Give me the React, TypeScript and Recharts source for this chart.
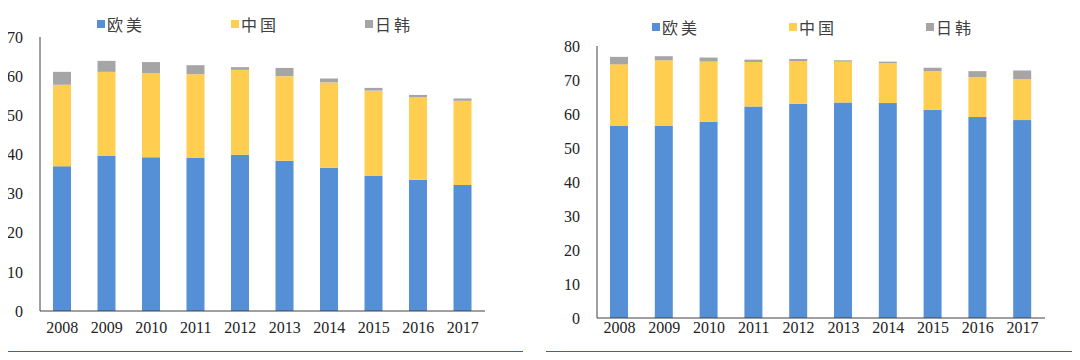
import React from 'react';
import { BarChart, Bar, XAxis, YAxis, Legend } from 'recharts';

const years = ['2008', '2009', '2010', '2011', '2012', '2013', '2014', '2015', '2016', '2017'];

// left chart
const leftWest = [37.0, 39.6, 39.3, 39.1, 39.9, 38.4, 36.6, 34.5, 33.5, 32.2];
const leftChina = [20.8, 21.5, 21.5, 21.4, 21.7, 21.6, 21.8, 21.8, 21.1, 21.5];
const leftJK = [3.3, 2.8, 2.8, 2.3, 0.7, 2.1, 1.0, 0.7, 0.6, 0.6];
const leftTicks = [0, 10, 20, 30, 40, 50, 60, 70];

// right chart
const rightWest = [56.5, 56.5, 57.7, 62.2, 63.0, 63.4, 63.2, 61.2, 59.1, 58.2];
const rightChina = [18.1, 19.3, 17.7, 13.1, 12.6, 12.0, 11.8, 11.4, 11.7, 12.1];
const rightJK = [2.2, 1.2, 1.2, 0.7, 0.6, 0.4, 0.4, 1.0, 1.8, 2.5];
const rightTicks = [0, 10, 20, 30, 40, 50, 60, 70, 80];

const seriesNames = ['欧美', '中国', '日韩'];
const colors = ['#5590d6', '#ffcd4f', '#a5a5a5'];

const serif = '"Liberation Serif", "Times New Roman", serif';
const cjk = '"Noto Sans CJK SC", sans-serif';

function rows(w: number[], c: number[], j: number[]) {
  return years.map((y, i) => ({ year: y, west: w[i], china: c[i], jk: j[i] }));
}

function LegendRow({ gap, left }: { gap: number; left: number }) {
  return (
    <div style={{ position: 'relative', height: 20, marginLeft: left }}>
      {seriesNames.map((n, i) => (
        <div
          key={n}
          style={{
            position: 'absolute',
            left: i * gap,
            top: 0,
            display: 'flex',
            alignItems: 'center',
            fontFamily: cjk,
            fontSize: 16,
            letterSpacing: 3,
            color: '#404040',
            whiteSpace: 'nowrap',
          }}
        >
          <span style={{ width: 8, height: 8, background: colors[i], marginRight: 2, display: 'inline-block' }} />
          {n}
        </div>
      ))}
    </div>
  );
}

function StackChart(props: {
  data: any[];
  ticks: number[];
  max: number;
  height: number;
  yWidth: number;
  top: number;
  right: number;
  xHeight: number;
  xMargin: number;
  legendTop: number;
  legendLeft: number;
  legendGap: number;
}) {
  const p = props;
  return (
    <BarChart
      width={540}
      height={p.height}
      data={p.data}
      margin={{ top: p.top, right: p.right, bottom: 0, left: 0 }}
      barSize={18}
    >
      <XAxis
        dataKey="year"
        tickLine={false}
        axisLine={{ stroke: '#404040' }}
        height={p.xHeight}
        tickMargin={p.xMargin}
        tick={{ fill: '#222', fontSize: 16, fontFamily: serif }}
        interval={0}
      />
      <YAxis
        domain={[0, p.max]}
        ticks={p.ticks}
        width={p.yWidth}
        tickLine={false}
        axisLine={{ stroke: '#404040' }}
        tickMargin={11}
        tick={{ fill: '#222', fontSize: 16, fontFamily: serif }}
      />
      <Legend
        verticalAlign="top"
        wrapperStyle={{ top: p.legendTop, left: 0, width: 540 }}
        content={() => <LegendRow gap={p.legendGap} left={p.legendLeft} />}
      />
      <Bar dataKey="west" stackId="a" fill={colors[0]} isAnimationActive={false} />
      <Bar dataKey="china" stackId="a" fill={colors[1]} isAnimationActive={false} />
      <Bar dataKey="jk" stackId="a" fill={colors[2]} isAnimationActive={false} />
    </BarChart>
  );
}

export default function App() {
  return (
    <div style={{ position: 'relative', width: 1080, height: 360, margin: -8, background: '#fff', overflow: 'hidden' }}>
      <div style={{ position: 'absolute', left: 0, top: 0 }}>
        <StackChart
          data={rows(leftWest, leftChina, leftJK)}
          ticks={leftTicks}
          max={70}
          height={345}
          yWidth={40}
          top={17}
          right={55}
          xHeight={34}
          xMargin={5}
          legendTop={12}
          legendLeft={97}
          legendGap={134}
        />
      </div>
      <div style={{ position: 'absolute', left: 540, top: 0 }}>
        <StackChart
          data={rows(rightWest, rightChina, rightJK)}
          ticks={rightTicks}
          max={80}
          height={352}
          yWidth={57}
          top={26}
          right={35}
          xHeight={34}
          xMargin={-2}
          legendTop={15}
          legendLeft={112}
          legendGap={137}
        />
      </div>
      <div style={{ position: 'absolute', left: 0, top: 351, width: 523, height: 3, background: '#3562a8', zIndex: 5 }} />
      <div style={{ position: 'absolute', left: 546, top: 351, width: 534, height: 3, background: '#3562a8', zIndex: 5 }} />
    </div>
  );
}
